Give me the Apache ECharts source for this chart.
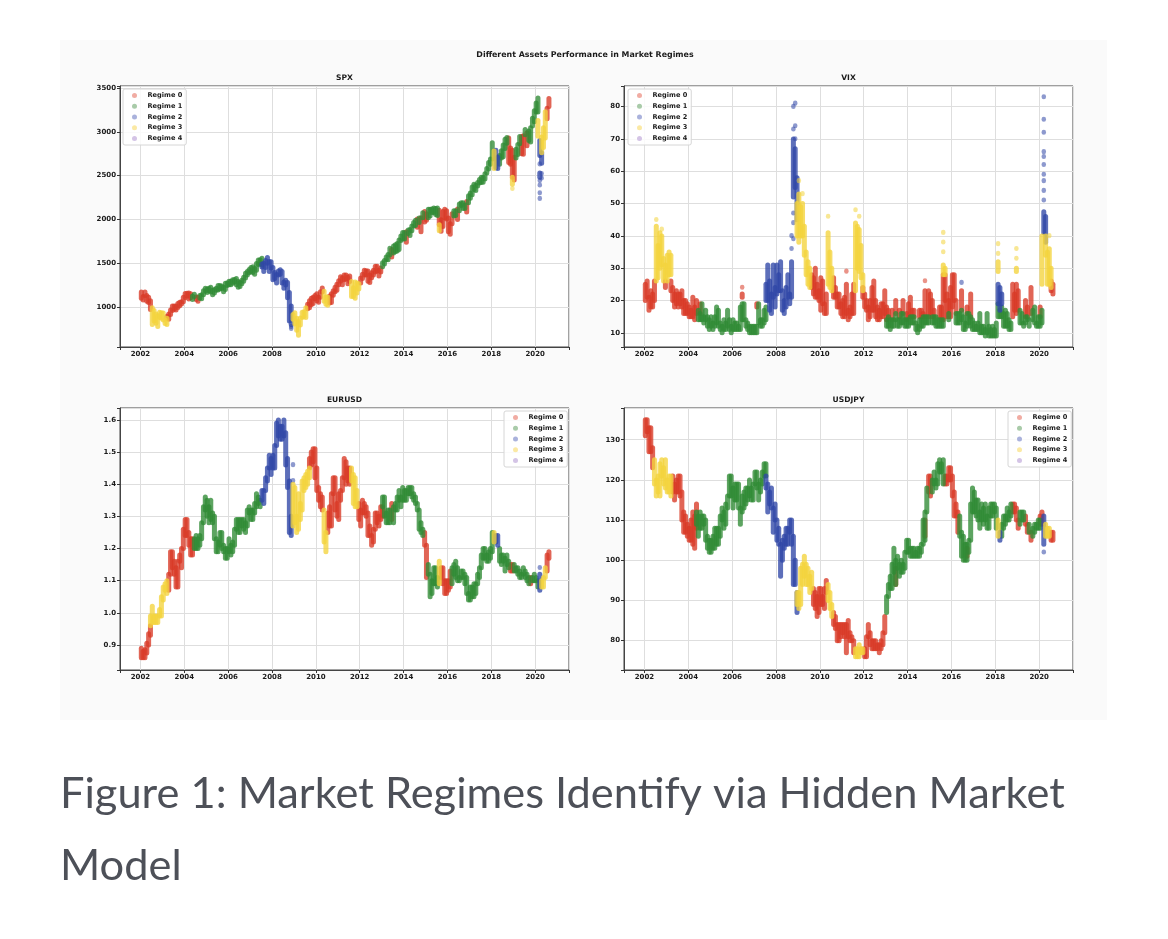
<!DOCTYPE html>
<html><head><meta charset="utf-8">
<script src="https://cdn.jsdelivr.net/npm/echarts@6/dist/echarts.min.js"></script>
<style>html,body{margin:0;padding:0;background:#fff}#c{width:1168px;height:939px}</style>
</head><body><div id="c"></div><script>
const regimeNames = ['Regime 0','Regime 1','Regime 2','Regime 3','Regime 4'];
const regimeColors = ['#d93a26','#2f8a34','#2f46a6','#f3d33c','#9b6fc0'];
const legendColors = ['#f1aca3','#a9cba9','#aab2dc','#fbe9a4','#d4c4e6'];
const panelTitles = ['SPX','VIX','EURUSD','USDJPY'];
const figureTitle = 'Different Assets Performance in Market Regimes';
const captionLines = ['Figure 1: Market Regimes Identify via Hidden Market','Model'];
// [yyyymm, regime, low, high] (low = high: a single dot)
const spxRows = [
[200201,0,1100,1172],[200202,0,1080,1120],[200203,0,1130,1170],[200204,0,1065,1130],[200205,0,1050,1110],[200206,0,970,1070],
[200207,3,800,990],[200208,3,840,960],[200209,3,815,920],[200210,3,776,900],[200211,3,880,940],[200212,3,870,935],
[200301,3,850,930],[200302,3,810,850],[200303,3,800,870],[200303,0,870,895],[200304,0,860,920],[200305,0,915,965],[200306,0,960,1010],
[200307,0,975,1010],[200308,0,965,1010],[200309,0,995,1040],[200310,0,1015,1055],[200311,0,1035,1060],[200312,0,1060,1112],
[200401,0,1105,1155],[200402,0,1125,1157],[200403,0,1090,1160],[200404,0,1105,1150],[200405,1,1085,1125],[200406,1,1120,1145],
[200407,0,1085,1115],[200408,0,1065,1110],[200409,1,1100,1130],[200410,1,1095,1140],[200411,1,1140,1185],[200412,1,1180,1215],
[200501,1,1165,1205],[200502,1,1185,1215],[200503,1,1170,1225],[200504,1,1140,1190],[200505,1,1160,1200],[200506,1,1190,1215],
[200507,1,1195,1245],[200508,1,1205,1245],[200509,1,1210,1240],[200510,1,1175,1225],[200511,1,1200,1270],[200512,1,1245,1275],
[200601,1,1255,1295],[200602,1,1255,1295],[200603,1,1270,1310],[200604,1,1285,1315],[200605,1,1255,1325],[200606,1,1225,1290],
[200607,1,1235,1280],[200608,1,1265,1305],[200609,1,1295,1340],[200610,1,1330,1385],[200611,1,1365,1405],[200612,1,1390,1428],
[200701,1,1405,1450],[200702,1,1395,1460],[200703,1,1375,1440],[200704,1,1420,1495],[200705,1,1485,1535],[200706,1,1490,1540],
[200707,1,1480,1555],[200707,2,1455,1490],[200708,2,1405,1500],[200709,2,1450,1530],[200710,2,1500,1565],[200711,2,1405,1520],[200712,2,1445,1515],
[200801,2,1310,1450],[200802,2,1325,1395],[200803,2,1275,1370],[200804,2,1365,1410],[200805,2,1375,1425],[200806,2,1275,1405],
[200807,2,1215,1285],[200808,2,1250,1305],[200809,2,1105,1280],[200810,2,840,1165],[200811,2,800,1010],[200811,2,752,752],[200811,2,775,775],[200812,3,860,915],
[200901,3,805,935],[200902,3,735,870],[200903,3,676,835],[200904,3,795,875],[200905,3,880,940],[200906,3,890,945],
[200907,3,880,990],[200908,0,980,1030],[200909,0,990,1070],[200910,0,1025,1100],[200911,0,1040,1110],[200912,0,1095,1130],
[201001,0,1070,1150],[201002,0,1055,1110],[201003,0,1110,1175],[201004,0,1170,1217],[201005,3,1065,1180],[201006,3,1030,1115],
[201007,3,1020,1115],[201008,0,1045,1125],[201009,0,1050,1150],[201010,0,1135,1185],[201011,0,1175,1225],[201012,0,1190,1260],
[201101,0,1255,1300],[201102,0,1295,1345],[201103,0,1255,1335],[201104,0,1310,1365],[201105,0,1320,1365],[201106,0,1265,1340],
[201107,0,1290,1355],[201108,3,1120,1290],[201109,3,1120,1220],[201110,3,1100,1285],[201111,3,1160,1275],[201112,3,1205,1265],
[201201,0,1275,1330],[201202,0,1325,1375],[201203,0,1365,1420],[201204,0,1365,1415],[201205,0,1295,1410],[201206,0,1280,1365],
[201207,0,1335,1390],[201208,0,1365,1420],[201209,0,1400,1465],[201210,0,1410,1465],[201211,0,1355,1420],[201212,0,1400,1445],
[201301,1,1460,1505],[201302,1,1490,1530],[201303,1,1540,1570],[201304,1,1540,1600],[201305,1,1595,1670],[201306,0,1570,1655],
[201307,1,1615,1695],[201308,1,1630,1710],[201309,1,1640,1725],[201310,1,1655,1765],[201311,1,1760,1810],[201312,1,1775,1850],
[201401,1,1775,1850],[201402,0,1740,1860],[201403,1,1840,1880],[201404,1,1815,1885],[201405,1,1870,1925],[201406,1,1925,1965],
[201407,1,1930,1990],[201408,0,1910,2005],[201409,1,1965,2015],[201410,0,1860,2020],[201411,1,2020,2075],[201412,0,1970,2090],
[201501,0,1990,2065],[201502,1,2020,2115],[201503,1,2040,2115],[201504,1,2080,2120],[201505,1,2080,2130],[201506,1,2055,2125],
[201507,1,2045,2130],[201508,0,1940,2105],[201508,3,1870,1940],[201509,0,1865,1995],[201510,0,1920,2090],[201511,0,2020,2115],[201512,0,2005,2100],
[201601,0,1860,2015],[201602,0,1830,1950],[201603,0,1950,2065],[201604,1,2040,2100],[201605,1,2045,2100],[201606,0,2000,2120],
[201607,1,2100,2175],[201608,1,2160,2190],[201609,1,2125,2190],[201610,1,2125,2165],[201611,0,2085,2205],[201612,1,2190,2270],
[201701,1,2240,2300],[201702,1,2280,2370],[201703,1,2340,2400],[201704,1,2330,2390],[201705,1,2380,2420],[201706,1,2415,2455],
[201707,1,2420,2480],[201708,1,2425,2480],[201709,1,2460,2520],[201710,1,2530,2580],[201711,1,2575,2650],[201712,1,2630,2690],
[201801,1,2690,2875],[201802,3,2580,2780],[201803,2,2590,2790],[201804,2,2580,2710],[201805,1,2630,2730],[201806,1,2700,2785],
[201807,1,2715,2850],[201808,1,2810,2915],[201809,1,2870,2935],[201810,0,2650,2930],[201811,0,2630,2815],[201812,0,2480,2790],[201812,3,2400,2480],[201812,3,2350,2350],
[201901,0,2450,2710],[201902,1,2700,2800],[201903,1,2740,2855],[201904,1,2865,2945],[201905,0,2750,2945],[201906,0,2745,2955],
[201907,1,2965,3025],[201908,0,2840,2990],[201909,1,2900,3010],[201910,1,2885,3045],[201911,1,3065,3155],[201912,1,3115,3240],
[202001,1,3225,3330],[202002,1,3225,3386],[202002,3,2950,3130],
[202003,2,2730,2900],[202003,2,2237,2237],[202003,2,2300,2300],[202003,2,2390,2390],[202003,2,2440,2440],[202003,2,2480,2530],[202003,2,2630,2630],
[202004,2,2470,2470],[202004,2,2520,2520],[202004,2,2640,2760],[202004,3,2760,2940],
[202005,3,2820,3045],[202006,3,2930,3230],[202007,0,3150,3270],[202008,0,3290,3380]
];
const vixRows = [
[200201,0,20,25],[200202,0,21,26],[200203,0,17,21],[200204,0,18,23],[200205,0,18,22],[200206,0,20,26],
[200207,3,26,43],[200207,3,45,45],[200208,3,27,37],[200209,3,30,41],[200210,3,31,40],[200210,3,42,42],[200211,3,26,33],[200212,3,27,31],[200212,0,24,26],
[200301,3,26,34],[200302,3,28,35],[200303,3,28,34],[200303,0,23,26],[200304,0,20,24],[200305,0,18,22],[200306,0,19,23],
[200307,0,18,22],[200308,0,19,22],[200309,0,18,23],[200310,0,16,20],[200311,0,16,20],[200312,0,16,19],
[200401,0,15,18],[200402,0,15,17],[200403,0,15,21],[200404,0,14,18],[200405,0,16,20],[200406,1,14,17],[200407,0,16,19],[200407,1,14,16],
[200408,1,14,19],[200409,1,13,15],[200410,1,14,17],[200411,1,12,15],[200412,1,11,14],
[200501,1,12,15],[200502,1,11,13],[200503,1,12,15],[200504,1,13,18],[200505,1,12,17],[200506,1,11,13],
[200507,1,10,12],[200508,1,11,14],[200509,1,11,13],[200510,1,12,17],[200511,1,11,14],[200512,1,10,12],
[200601,1,11,14],[200602,1,11,13],[200603,1,11,13],[200604,1,11,12],[200605,1,11,18],[200606,1,14,19],[200606,0,21,22],[200606,0,24,24],
[200607,1,14,19],[200608,1,12,14],[200609,1,11,13],[200610,1,10,12],[200611,1,10,12],[200612,1,10,12],
[200701,1,10,12],[200702,1,10,12],[200702,0,18,19],[200703,1,13,19],[200704,1,12,14],[200705,1,12,14],[200706,1,13,17],
[200707,1,14,18],[200707,2,20,25],[200708,2,20,31],[200709,2,17,26],[200710,2,16,22],[200711,2,21,31],[200712,2,18,24],
[200801,2,22,31],[200802,2,23,28],[200803,2,23,32],[200804,2,17,23],[200805,2,16,20],[200806,2,18,24],
[200807,2,21,28],[200808,2,19,22],[200809,2,21,32],[200809,2,36,36],[200809,2,40,40],
[200810,2,52,70],[200810,2,39,39],[200810,2,44,44],[200810,2,47,47],[200810,2,73,73],[200810,2,80,80],
[200811,2,55,67],[200811,2,70,70],[200811,2,74,74],[200811,2,81,81],
[200812,2,45,58],[200812,3,40,50],
[200901,3,38,53],[200901,3,57,57],[200902,3,40,49],[200903,3,40,50],[200903,3,53,53],[200904,3,34,43],[200905,3,28,35],[200906,3,25,32],
[200907,3,24,30],[200908,0,24,28],[200909,0,22,27],[200910,0,21,30],[200911,0,21,25],[200912,0,20,23],
[201001,0,17,27],[201002,0,19,26],[201003,0,16,19],[201004,0,16,22],[201005,3,25,41],[201005,3,46,46],[201006,3,24,35],
[201007,3,23,30],[201008,0,21,27],[201009,0,21,24],[201010,0,18,22],[201011,0,18,22],[201012,0,16,19],
[201101,0,15,20],[201102,0,15,21],[201103,0,16,25],[201103,0,29,29],[201104,0,14,17],[201105,0,15,18],[201106,0,16,22],
[201107,0,16,25],[201108,3,23,44],[201108,3,48,48],[201109,3,30,43],[201110,3,29,42],[201110,3,46,46],[201111,3,27,37],[201112,3,23,28],[201112,0,21,24],
[201201,0,18,22],[201202,0,17,20],[201203,0,14,18],[201204,0,15,20],[201205,0,17,24],[201206,0,17,26],
[201207,0,15,20],[201208,0,14,18],[201209,0,14,17],[201210,0,15,19],[201211,0,15,19],[201212,0,16,23],
[201301,1,12,14],[201301,0,14,18],[201302,1,12,15],[201302,0,15,17],[201303,1,11,14],[201304,1,12,14],[201304,0,14,17],
[201305,1,12,14],[201306,1,14,16],[201306,0,16,20],[201307,1,12,14],[201308,1,12,14],[201308,0,15,17],[201309,1,13,16],
[201310,1,13,16],[201310,0,16,20],[201311,1,12,14],[201312,1,12,14],[201312,0,14,16],
[201401,1,12,14],[201401,0,15,19],[201402,1,13,15],[201402,0,15,21],[201403,1,13,15],[201403,0,15,17],[201404,1,13,15],[201404,0,15,17],
[201405,1,11,13],[201406,1,10,12],[201407,1,11,14],[201407,0,15,17],[201408,1,12,14],[201408,0,15,17],[201409,1,12,15],[201409,0,15,16],
[201410,1,13,15],[201410,0,15,23],[201410,0,26,26],[201411,1,13,15],[201412,1,13,15],[201412,0,15,23],
[201501,0,16,22],[201502,1,13,15],[201502,0,15,20],[201503,1,13,15],[201503,0,15,17],[201504,1,12,15],[201505,1,12,14],
[201506,1,12,14],[201506,0,15,18],[201507,1,12,14],[201507,0,14,18],[201508,1,12,14],[201508,0,14,28],[201508,3,28,31],[201508,3,35,35],[201508,3,38,38],[201508,3,41,41],
[201509,0,20,28],[201509,3,28,30],[201510,0,15,22],[201511,1,14,16],[201511,0,15,20],[201512,0,15,24],
[201601,0,18,28],[201602,0,20,28],[201603,1,13,16],[201603,0,16,20],[201604,1,13,16],[201605,1,13,16],[201606,1,14,17],[201606,0,17,23],[201606,2,25.5,25.5],
[201607,1,11,15],[201608,1,11,13],[201609,1,12,16],[201609,0,16,18],[201610,1,13,16],[201611,1,12,15],[201611,0,15,22],[201612,1,11,14],
[201701,1,11,13],[201702,1,11,12],[201703,1,11,13],[201704,1,10,16],[201705,1,10,12],[201706,1,10,12],
[201707,1,9,11],[201708,1,10,16],[201709,1,9,12],[201710,1,9,11],[201711,1,9,12],[201712,1,9,11],
[201801,1,9,13],[201802,1,15,19],[201802,2,19,25],[201802,3,29,32],[201802,3,34.5,34.5],[201802,3,37.5,37.5],[201803,1,15,17],[201803,2,17,24],[201804,1,15,18],[201804,2,19,22],
[201805,1,12,16],[201806,1,12,17],[201807,1,12,16],[201808,1,11,14],[201809,1,11,13],[201810,0,15,25],[201811,0,17,22],[201812,0,16,25],[201812,3,29,30],[201812,3,33,33],[201812,3,36,36],
[201901,0,17,23],[201902,1,13,17],[201903,1,13,16],[201904,1,12,13],[201905,1,13,15],[201905,0,15,20],[201906,1,14,15],[201906,0,15,18],
[201907,1,12,14],[201908,0,16,24],[201909,1,14,17],[201910,1,13,18],[201911,1,12,13],[201912,1,12,15],
[202001,1,12,15],[202001,0,15,18],[202002,1,13,17],[202002,3,25,40],
[202003,2,41,47.5],[202003,2,51,51],[202003,2,54,54],[202003,2,57,57],[202003,2,59,59],[202003,2,62,62],[202003,2,64.5,64.5],[202003,2,66,66],[202003,2,72,72],[202003,2,76,76],[202003,2,83,83],
[202004,2,38,46],[202004,3,34,40],
[202005,3,25,35],[202006,3,25,36],[202006,3,40,40],[202007,3,24,30],[202007,0,23,26],[202008,0,22,25]
];
const eurRows = [
[200201,0,0.86,0.89],[200202,0,0.86,0.88],[200203,0,0.86,0.885],[200204,0,0.875,0.905],[200205,0,0.90,0.935],[200206,0,0.93,0.96],[200206,3,0.96,0.99],
[200207,3,0.97,1.02],[200208,3,0.97,0.99],[200209,3,0.97,0.99],[200210,3,0.97,0.99],[200211,3,0.99,1.01],[200212,3,0.99,1.05],
[200301,3,1.04,1.08],[200302,3,1.07,1.09],[200303,3,1.06,1.10],[200304,0,1.07,1.12],[200305,0,1.12,1.19],[200306,0,1.14,1.19],
[200307,0,1.12,1.16],[200308,0,1.08,1.14],[200309,0,1.08,1.16],[200310,0,1.16,1.18],[200311,0,1.14,1.20],[200312,0,1.20,1.26],
[200401,0,1.24,1.29],[200402,0,1.24,1.29],[200403,0,1.21,1.25],[200404,0,1.18,1.23],[200405,0,1.18,1.23],[200406,1,1.20,1.23],
[200407,1,1.20,1.24],[200408,1,1.20,1.23],[200409,1,1.21,1.24],[200410,1,1.23,1.28],[200411,1,1.28,1.33],[200412,1,1.32,1.36],
[200501,1,1.30,1.35],[200502,1,1.28,1.33],[200503,1,1.29,1.35],[200504,1,1.28,1.31],[200505,1,1.23,1.30],[200506,1,1.19,1.23],
[200507,1,1.19,1.22],[200508,1,1.21,1.25],[200509,1,1.20,1.25],[200510,1,1.19,1.21],[200511,1,1.17,1.20],[200512,1,1.17,1.20],
[200601,1,1.19,1.23],[200602,1,1.18,1.21],[200603,1,1.19,1.22],[200604,1,1.21,1.26],[200605,1,1.26,1.29],[200606,1,1.25,1.29],
[200607,1,1.25,1.29],[200608,1,1.27,1.29],[200609,1,1.26,1.29],[200610,1,1.25,1.28],[200611,1,1.27,1.32],[200612,1,1.31,1.33],
[200701,1,1.29,1.32],[200702,1,1.29,1.32],[200703,1,1.31,1.34],[200704,1,1.33,1.37],[200705,1,1.34,1.36],[200706,1,1.33,1.35],
[200707,2,1.35,1.38],[200708,2,1.34,1.38],[200709,2,1.38,1.42],[200710,2,1.41,1.45],[200711,2,1.45,1.49],[200712,2,1.43,1.48],
[200801,2,1.45,1.49],[200802,2,1.45,1.52],[200803,2,1.52,1.59],[200804,2,1.55,1.60],[200805,2,1.54,1.58],[200806,2,1.54,1.58],
[200807,2,1.55,1.60],[200808,2,1.46,1.56],[200809,2,1.39,1.48],[200810,2,1.25,1.41],[200811,2,1.24,1.30],[200812,2,1.41,1.41],[200812,2,1.46,1.46],[200812,3,1.27,1.40],
[200901,3,1.28,1.39],[200902,3,1.25,1.30],[200903,3,1.26,1.37],[200904,3,1.29,1.34],[200905,3,1.32,1.41],[200906,3,1.38,1.42],
[200907,3,1.39,1.43],[200908,3,1.40,1.44],[200909,3,1.42,1.45],[200909,0,1.45,1.48],[200910,0,1.46,1.50],[200911,0,1.47,1.51],[200912,0,1.42,1.51],
[201001,0,1.38,1.45],[201002,0,1.35,1.39],[201003,0,1.33,1.37],[201004,0,1.32,1.36],[201005,3,1.22,1.32],[201006,3,1.19,1.25],
[201007,0,1.25,1.31],[201008,0,1.27,1.33],[201009,0,1.27,1.37],[201010,0,1.37,1.42],[201011,0,1.32,1.42],[201012,0,1.30,1.34],
[201101,0,1.29,1.37],[201102,0,1.35,1.38],[201103,0,1.38,1.42],[201104,0,1.42,1.48],[201105,0,1.40,1.47],[201106,0,1.41,1.45],
[201107,0,1.40,1.45],[201108,3,1.41,1.45],[201109,3,1.34,1.43],[201110,3,1.33,1.42],[201111,3,1.33,1.38],[201112,0,1.29,1.34],
[201201,0,1.27,1.32],[201202,0,1.31,1.35],[201203,0,1.31,1.34],[201204,0,1.30,1.33],[201205,0,1.24,1.31],[201206,0,1.24,1.27],
[201207,0,1.21,1.24],[201208,0,1.22,1.26],[201209,0,1.26,1.31],[201210,0,1.28,1.31],[201211,0,1.27,1.30],[201212,0,1.29,1.33],
[201301,0,1.30,1.33],[201301,1,1.33,1.36],[201302,1,1.30,1.36],[201303,1,1.28,1.31],[201304,1,1.28,1.32],[201305,1,1.28,1.32],[201306,0,1.29,1.34],
[201307,1,1.28,1.33],[201308,1,1.32,1.34],[201309,1,1.32,1.36],[201310,1,1.35,1.38],[201311,1,1.33,1.36],[201312,1,1.35,1.39],
[201401,1,1.35,1.38],[201402,1,1.35,1.38],[201403,1,1.37,1.39],[201404,1,1.37,1.39],[201405,1,1.36,1.39],[201406,1,1.35,1.37],
[201407,1,1.34,1.36],[201408,1,1.32,1.34],[201409,1,1.26,1.32],[201410,1,1.25,1.28],[201411,1,1.24,1.26],[201412,0,1.21,1.25],
[201501,0,1.11,1.21],[201502,1,1.12,1.15],[201503,1,1.05,1.12],[201504,1,1.06,1.10],[201505,1,1.09,1.14],[201506,1,1.09,1.14],
[201507,1,1.08,1.11],[201508,3,1.09,1.16],[201509,0,1.11,1.14],[201510,0,1.09,1.14],[201511,0,1.06,1.10],[201512,0,1.06,1.10],
[201601,0,1.07,1.10],[201602,0,1.08,1.13],[201603,1,1.09,1.14],[201604,1,1.12,1.15],[201605,1,1.11,1.16],[201606,1,1.10,1.14],
[201607,1,1.10,1.11],[201608,1,1.11,1.13],[201609,1,1.11,1.13],[201610,1,1.09,1.12],[201611,1,1.06,1.11],[201612,1,1.04,1.06],
[201701,1,1.04,1.08],[201702,1,1.05,1.08],[201703,1,1.05,1.09],[201704,1,1.06,1.09],[201705,1,1.09,1.12],[201706,1,1.11,1.14],
[201707,1,1.14,1.18],[201708,1,1.17,1.20],[201709,1,1.17,1.20],[201710,1,1.16,1.18],[201711,1,1.16,1.19],[201712,1,1.17,1.20],
[201801,1,1.19,1.25],[201802,3,1.22,1.25],[201803,2,1.22,1.24],[201804,2,1.21,1.24],[201805,1,1.16,1.20],[201806,1,1.15,1.18],
[201807,1,1.16,1.18],[201808,1,1.13,1.17],[201809,1,1.15,1.18],[201810,1,1.14,1.16],[201811,0,1.13,1.15],[201812,0,1.13,1.15],
[201901,1,1.13,1.15],[201902,1,1.13,1.14],[201903,1,1.12,1.14],[201904,1,1.11,1.13],[201905,1,1.11,1.12],[201906,1,1.12,1.14],
[201907,1,1.11,1.13],[201908,1,1.10,1.12],[201909,1,1.09,1.11],[201910,0,1.09,1.11],[201911,1,1.10,1.11],[201912,1,1.10,1.12],
[202001,1,1.10,1.11],[202002,1,1.08,1.10],[202003,2,1.07,1.12],[202003,2,1.14,1.14],[202004,3,1.08,1.10],[202005,3,1.08,1.11],[202006,3,1.11,1.14],
[202007,0,1.13,1.18],[202008,0,1.17,1.19]
];
const jpyRows = [
[200201,0,131,135],[200202,0,132,135],[200203,0,127,133],[200204,0,127,133],[200205,0,123,128],[200206,3,119,125],
[200207,3,116,120],[200208,3,117,121],[200209,3,116,124],[200210,3,121,125],[200211,3,119,123],[200212,3,118,125],
[200301,3,117,120],[200302,3,117,121],[200303,3,116,121],[200304,0,117,121],[200305,0,115,119],[200306,0,117,120],
[200307,0,117,121],[200308,0,116,121],[200309,0,110,117],[200310,0,107,112],[200311,0,107,111],[200312,0,106,109],
[200401,0,105,108],[200402,0,105,110],[200403,0,104,112],[200404,0,103,111],[200405,0,108,114],[200405,1,109,112],[200406,1,106,111],
[200407,1,108,112],[200408,1,108,111],[200409,1,109,111],[200410,1,105,110],[200411,1,103,106],[200412,1,102,105],
[200501,1,102,105],[200502,1,103,106],[200503,1,103,108],[200504,1,104,108],[200505,1,104,108],[200506,1,106,111],
[200507,1,110,113],[200508,1,108,112],[200509,1,109,114],[200510,1,113,116],[200511,1,116,121],[200512,1,116,121],
[200601,1,113,118],[200602,1,115,119],[200603,1,115,119],[200604,1,113,119],[200605,1,109,113],[200606,1,112,116],
[200607,1,113,117],[200608,1,114,118],[200609,1,115,118],[200610,1,116,120],[200611,1,115,118],[200612,1,115,119],
[200701,1,119,122],[200702,1,118,122],[200703,1,115,119],[200704,1,117,120],[200705,1,119,122],[200706,1,121,124],
[200707,1,121,124],[200707,2,118,121],[200708,2,112,119],[200709,2,114,117],[200710,2,113,118],[200711,2,107,113],[200712,2,110,114],
[200801,2,105,110],[200802,2,104,108],[200803,2,96,104],[200804,2,100,105],[200805,2,103,106],[200806,2,104,108],
[200807,2,104,108],[200808,2,107,110],[200809,2,104,110],[200810,2,94,106],[200811,2,94,100],[200812,2,87,92],[200812,3,89,92],
[200901,3,88,92],[200902,3,89,98],[200903,3,94,99],[200904,3,96,101],[200905,3,94,99],[200906,3,94,98],
[200907,3,92,96],[200908,3,93,97],[200909,0,89,93],[200910,0,88,92],[200911,0,86,91],[200912,0,87,93],
[201001,0,89,93],[201002,0,89,91],[201003,0,88,93],[201004,0,92,95],[201005,3,90,94],[201006,3,88,92],
[201007,3,86,89],[201008,0,84,87],[201009,0,83,86],[201010,0,80,84],[201011,0,80,84],[201012,0,81,84],
[201101,0,82,84],[201102,0,81,84],[201103,0,77,84],[201104,0,81,85],[201105,0,80,82],[201106,0,80,81],
[201107,0,77,80],[201108,3,76,78],[201109,3,76,78],[201110,3,76,79],[201111,3,77,78],[201112,3,77,78],
[201201,0,76,78],[201202,0,76,81],[201203,0,81,84],[201204,0,79,82],[201205,0,78,80],[201206,0,78,80],
[201207,0,78,80],[201208,0,78,79],[201209,0,77,79],[201210,0,78,80],[201211,0,79,82],[201212,0,82,86],
[201301,1,87,91],[201302,1,91,94],[201303,1,93,96],[201304,1,93,99],[201305,1,97,103],[201306,1,94,100],[201306,0,94,98],
[201307,1,98,101],[201308,1,96,99],[201309,1,97,100],[201310,1,97,99],[201311,1,98,102],[201312,1,102,105],
[201401,1,102,105],[201402,1,101,103],[201403,1,101,103],[201404,1,101,103],[201405,1,101,102],[201406,1,101,103],
[201407,1,101,103],[201408,1,102,104],[201409,1,104,110],[201410,1,105,112],[201410,0,106,110],[201411,1,112,118],[201412,0,117,121],
[201501,0,116,121],[201502,1,117,120],[201503,1,119,122],[201504,1,118,120],[201505,1,119,124],[201506,1,122,125],
[201507,1,122,124],[201508,1,119,125],[201509,0,119,121],[201510,0,119,121],[201511,0,120,123],[201512,0,120,123],
[201601,0,116,121],[201602,0,111,117],[201603,0,111,114],[201604,0,107,112],[201605,1,106,111],[201606,1,101,107],
[201607,1,100,106],[201608,1,100,104],[201609,1,100,104],[201609,0,101,103],[201610,1,102,105],[201611,1,105,114],[201612,1,112,118],
[201701,1,112,117],[201702,1,111,115],[201703,1,110,115],[201704,1,108,112],[201705,1,110,114],[201706,1,109,113],
[201707,1,110,114],[201708,1,108,111],[201709,1,108,113],[201710,1,111,114],[201711,1,111,114],[201712,1,112,114],
[201801,1,108,113],[201802,3,106,110],[201803,2,105,107],[201804,1,106,109],[201805,1,108,111],[201806,1,109,111],
[201807,1,110,113],[201808,1,110,112],[201809,1,111,114],[201810,0,112,114],[201811,0,112,114],[201812,0,110,113],
[201901,0,108,110],[201902,1,109,112],[201903,1,110,112],[201904,1,110,112],[201905,0,109,111],[201906,0,107,109],
[201907,1,107,109],[201908,0,105,107],[201909,1,106,108],[201910,1,107,109],[201911,1,108,109],[201912,1,108,110],
[202001,1,108,110],[202001,0,109,111],[202002,0,109,112],[202003,2,104,111],[202003,2,102,102],[202004,3,106,109],[202005,3,106,108],
[202006,3,106,108],[202007,0,105,107],[202008,0,105,107]
];
const panelRows = [spxRows, vixRows, eurRows, jpyRows];
// axis ranges [min, max, tick step]
const xRange = [2001.07, 2021.54, 2];
const yRanges = [[543,3523,500],[5.6,86.4,10],[0.822,1.637,0.1],[72.7,137.9,10]];

// layout
const grids = [
  {left:120, top:86, width:449, height:261},
  {left:624, top:86, width:449, height:261},
  {left:120, top:408, width:449, height:262},
  {left:624, top:408, width:449, height:262}
];
const legendPos = [{left:123, top:89},{left:628, top:89},{left:504, top:411},{left:1008, top:411}];
const FONT = 'DejaVu Sans';

function ym(v){ return Math.floor(v/100) + ((v%100) - 0.5)/12; }
function tickFmt(step){
  return function(v){
    const k = v/step;
    if (Math.abs(k - Math.round(k)) > 1e-6) return '';
    return step < 1 ? v.toFixed(1) : String(Math.round(v));
  };
}
function makeRender(color){
  return function(params, api){
    const lo = api.value(1), hi = api.value(2);
    const a = api.coord([api.value(0), lo]);
    const b = api.coord([api.value(0), hi]);
    let y2 = b[1];
    if (Math.abs(a[1]-y2) < 0.6) y2 = a[1] - 0.6;
    const single = lo === hi;
    return {type:'line', silent:true,
      shape:{x1:a[0], y1:a[1], x2:b[0], y2:y2},
      style:{stroke:color, lineWidth: single ? 4.5 : 5, lineCap:'round', opacity: single ? 0.55 : 0.78}};
  };
}

const labelStyle = {fontSize:7, color:'#1a1a1a', fontFamily:FONT, fontWeight:'bold', margin:4};
const xAxes = [], yAxes = [], series = [], legends = [], graphics = [];
graphics.push({type:'rect', z:-10, silent:true, shape:{x:60, y:40, width:1047, height:680}, style:{fill:'#fafafa'}});
grids.forEach((g, p) => {
  xAxes.push({type:'value', gridIndex:p, min:xRange[0], max:xRange[1], minInterval:xRange[2], maxInterval:xRange[2],
    axisLine:{show:true, lineStyle:{color:'#444', width:1}},
    axisTick:{show:true, length:3, lineStyle:{color:'#333'}},
    axisLabel:Object.assign({formatter:tickFmt(xRange[2])}, labelStyle),
    splitLine:{show:true, lineStyle:{color:'#dedede', width:1}}});
  const yr = yRanges[p];
  yAxes.push({type:'value', gridIndex:p, min:yr[0], max:yr[1], minInterval:yr[2], maxInterval:yr[2],
    axisLine:{show:true, lineStyle:{color:'#444', width:1}},
    axisTick:{show:true, length:3, lineStyle:{color:'#333'}},
    axisLabel:Object.assign({formatter:tickFmt(yr[2])}, labelStyle),
    splitLine:{show:true, lineStyle:{color:'#dedede', width:1}}});
  regimeNames.forEach((name, r) => {
    series.push({type:'custom', name:name, xAxisIndex:p, yAxisIndex:p, clip:true, silent:true,
      renderItem: makeRender(regimeColors[r]), encode:{x:0, y:[1,2]},
      itemStyle:{color:regimeColors[r]},
      data: panelRows[p].filter(row => row[1] === r).map(row => [ym(row[0]), row[2], row[3]])});
  });
  legends.push(Object.assign({orient:'vertical', selectedMode:false,
    data: regimeNames.map((n, i) => ({name:n, icon:'circle', itemStyle:{color:legendColors[i]}})),
    itemWidth:16, itemHeight:5, itemGap:1.5,
    textStyle:{fontSize:6.6, color:'#1a1a1a', fontFamily:FONT, fontWeight:'bold', lineHeight:9.2},
    backgroundColor:'rgba(255,255,255,0.85)', borderColor:'#d6d6d6', borderWidth:1, borderRadius:2,
    padding:[2,4,2,9]}, legendPos[p]));
  graphics.push({type:'text', silent:true, x:g.left + g.width/2, y:g.top - 8,
    style:{text:panelTitles[p], font:'bold 7.6px "DejaVu Sans"', fill:'#1a1a1a', align:'center', verticalAlign:'middle'}});
});
graphics.push({type:'text', silent:true, x:585, y:55,
  style:{text:figureTitle, font:'bold 7.9px "DejaVu Sans"', fill:'#1a1a1a', align:'center', verticalAlign:'middle'}});
graphics.push({type:'text', silent:true, x:60, y:794,
  style:{text:captionLines[0], font:'43.4px Lato', fill:'#4d5058', align:'left', verticalAlign:'middle'}});
graphics.push({type:'text', silent:true, x:60, y:866,
  style:{text:captionLines[1], font:'43.4px Lato', fill:'#4d5058', align:'left', verticalAlign:'middle'}});

const chart = echarts.init(document.getElementById('c'), null, {renderer:'canvas'});
chart.setOption({
  backgroundColor:'#ffffff', animation:false,
  grid: grids.map(g => Object.assign({show:true, backgroundColor:'#ffffff', borderColor:'#444', borderWidth:1, containLabel:false}, g)),
  xAxis:xAxes, yAxis:yAxes, legend:legends, series:series, graphic:graphics
});
</script></body></html>
